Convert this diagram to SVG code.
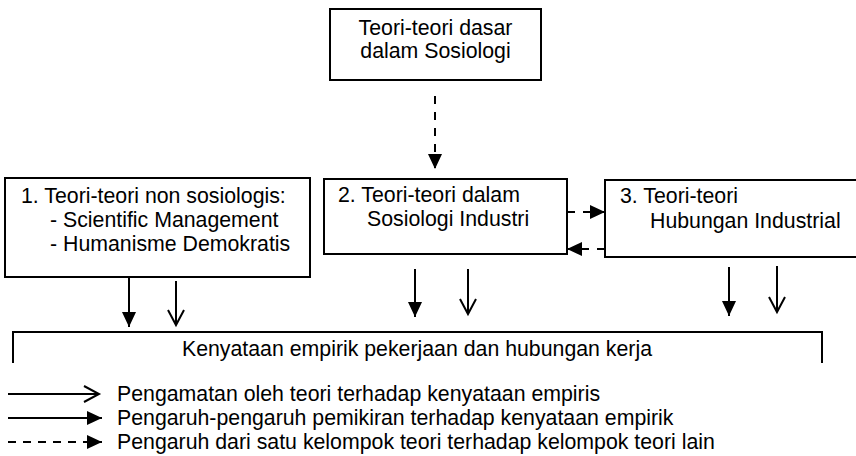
<svg xmlns="http://www.w3.org/2000/svg" width="856" height="456" viewBox="0 0 856 456">
<style>
.box{fill:#fff;stroke:#000;stroke-width:2}
.t{font-family:"Liberation Sans",Arial,sans-serif;font-size:21.3px;fill:#000}
.ln{stroke:#000;stroke-width:2;fill:none}
.dash{stroke-dasharray:8,8}
.f{marker-end:url(#filled)}
.o{marker-end:url(#open)}
</style>
<defs>
<marker id="filled" markerUnits="userSpaceOnUse" markerWidth="15" markerHeight="14" refX="15" refY="7" orient="auto" overflow="visible">
<path d="M0,0 L15,7 L0,14 z" fill="#000"/>
</marker>
<marker id="open" markerUnits="userSpaceOnUse" markerWidth="16" markerHeight="18" refX="15" refY="9" orient="auto" overflow="visible">
<path d="M0,1 L15,9 L0,17" fill="none" stroke="#000" stroke-width="2"/>
</marker>
</defs>
<g id="node-top">
<rect class="box" x="330" y="9" width="211" height="71"/>
<text class="t" x="435.5" y="35" text-anchor="middle">Teori-teori dasar</text>
<text class="t" x="435.5" y="58" text-anchor="middle">dalam Sosiologi</text>
</g>
<g id="node-1">
<rect class="box" x="5" y="178" width="305" height="99"/>
<text class="t" x="21" y="203">1. Teori-teori non sosiologis:</text>
<text class="t" x="50" y="227">- Scientific Management</text>
<text class="t" x="50" y="251">- Humanisme Demokratis</text>
</g>
<g id="node-2">
<rect class="box" x="324" y="179" width="243" height="75"/>
<text class="t" x="338" y="202">2. Teori-teori dalam</text>
<text class="t" x="367" y="226">Sosiologi Industri</text>
</g>
<g id="node-3">
<rect class="box" x="605" y="180" width="260" height="77"/>
<text class="t" x="620" y="203">3. Teori-teori</text>
<text class="t" x="650" y="228">Hubungan Industrial</text>
</g>
<g id="node-bottom">
<path class="ln" d="M13,363 V332 H822 V363"/>
<text class="t" x="417" y="356" text-anchor="middle">Kenyataan empirik pekerjaan dan hubungan kerja</text>
</g>
<g id="connectors">
<line class="ln dash f" x1="435" y1="96" x2="435" y2="169"/>
<line class="ln dash f" x1="567" y1="212" x2="605" y2="212"/>
<line class="ln dash f" x1="605" y1="249" x2="567" y2="249"/>
<line class="ln f" x1="129" y1="277" x2="129" y2="327"/>
<line class="ln o" x1="176" y1="281" x2="176" y2="325"/>
<line class="ln f" x1="415" y1="269" x2="415" y2="317"/>
<line class="ln o" x1="468" y1="269" x2="468" y2="314"/>
<line class="ln f" x1="729" y1="267" x2="729" y2="316"/>
<line class="ln o" x1="777" y1="266" x2="777" y2="312"/>
</g>
<g id="legend">
<line class="ln o" x1="8" y1="394" x2="99" y2="394"/>
<line class="ln f" x1="8" y1="418" x2="102" y2="418"/>
<line class="ln f" x1="8" y1="442" x2="102" y2="442" stroke-dasharray="8,7"/>
<text class="t" x="117" y="401">Pengamatan oleh teori terhadap kenyataan empiris</text>
<text class="t" x="117" y="425">Pengaruh-pengaruh pemikiran terhadap kenyataan empirik</text>
<text class="t" x="117" y="449">Pengaruh dari satu kelompok teori terhadap kelompok teori lain</text>
</g>
</svg>
